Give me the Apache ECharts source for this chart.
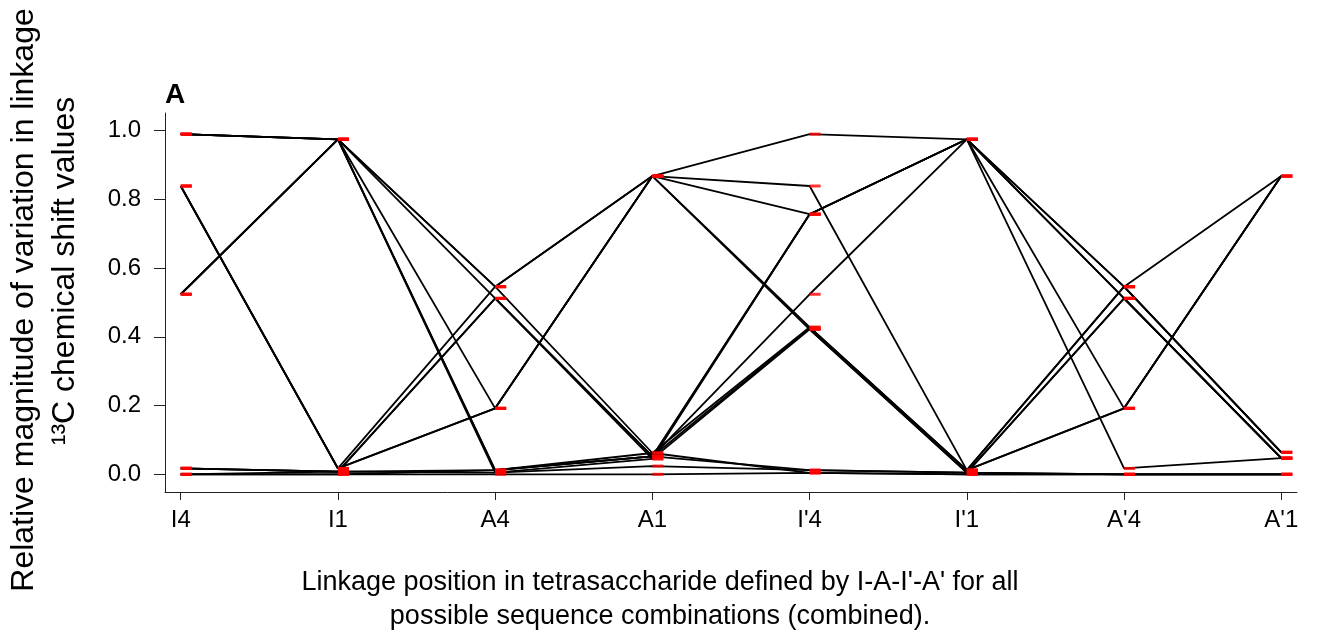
<!DOCTYPE html>
<html>
<head>
<meta charset="utf-8">
<script src="https://cdn.jsdelivr.net/npm/echarts@6/dist/echarts.min.js"></script>
<style>
html,body{margin:0;padding:0;background:#fff;}
#chart{width:1317px;height:641px;}
</style>
</head>
<body>
<div id="chart"></div>
<script>
// Linkage positions (x categories)
const categories = ["I4", "I1", "A4", "A1", "I'4", "I'1", "A'4", "A'1"];
const yTicks = [0, 0.2, 0.4, 0.6, 0.8, 1.0];

// One polyline per sequence combination (values at each linkage position)
const line01 = [0.99, 0.975, 0.546, 0.868, 0.99, 0.975, 0.546, 0.868];
const line02 = [0.524, 0.975, 0.512, 0.052, 0.757, 0.975, 0.512, 0.047];
const line03 = [0.839, 0.017, 0.546, 0.062, 0.428, 0.012, 0.546, 0.064];
const line04 = [0.0175, 0.008, 0.512, 0.045, 0.422, 0.005, 0.512, 0.047];
const line05 = [0, 0, 0, 0, 0.004, 0, 0, 0];
const line06 = [0.99, 0.975, 0.192, 0.868, 0.839, 0.012, 0.192, 0.868];
const line07 = [0.99, 0.975, 0.012, 0.052, 0.524, 0.975, 0.192, 0.868];
const line08 = [0.524, 0.975, 0.005, 0.024, 0.012, 0.005, 0, 0];
const line09 = [0.839, 0.017, 0.192, 0.868, 0.757, 0.975, 0.017, 0.047];
const line10 = [0.0175, 0.008, 0.012, 0.052, 0.757, 0.975, 0.546, 0.064];
const line11 = [0, 0.008, 0.005, 0.045, 0.757, 0.975, 0.512, 0.047];
const line12 = [0.524, 0.975, 0.546, 0.868, 0.428, 0.012, 0.546, 0.064];
const line13 = [0.839, 0.017, 0.192, 0.868, 0.422, 0.005, 0.512, 0.047];
const line14 = [0.0175, 0.008, 0.512, 0.052, 0.012, 0.005, 0, 0];
const line15 = [0, 0, 0.012, 0.062, 0.004, 0, 0, 0];
const line16 = [0.99, 0.975, 0.012, 0.052, 0.425, 0.012, 0.192, 0.868];

const lines = [line01, line02, line03, line04, line05, line06, line07, line08,
               line09, line10, line11, line12, line13, line14, line15, line16];

const lineSeries = lines.map(function (arr) {
  return {
    type: 'line',
    data: arr.map(function (v, i) { return [i + 1, v]; }),
    symbol: 'none',
    silent: true,
    z: 2,
    lineStyle: { color: '#000', width: 1.8 }
  };
});

const markerData = [];
lines.forEach(function (arr) {
  arr.forEach(function (v, i) { markerData.push([i + 1, v]); });
});

const FONT = '"Liberation Sans", Arial, sans-serif';

const chart = echarts.init(document.getElementById('chart'), null, { renderer: 'canvas' });
chart.setOption({
  animation: false,
  backgroundColor: '#fff',
  grid: { left: 165, right: 20, top: 113, bottom: 149, containLabel: false },
  xAxis: {
    type: 'value',
    min: 0.9,
    max: 8.1,
    splitLine: { show: false },
    axisLine: { show: true, onZero: false, lineStyle: { color: '#222', width: 1 } },
    axisTick: { show: true, length: 8, customValues: [1, 2, 3, 4, 5, 6, 7, 8], lineStyle: { color: '#222' } },
    axisLabel: {
      customValues: [1, 2, 3, 4, 5, 6, 7, 8],
      formatter: function (v) { return categories[Math.round(v) - 1]; },
      fontSize: 24, fontFamily: FONT, color: '#000', margin: 16
    }
  },
  yAxis: {
    type: 'value',
    min: -0.0515,
    max: 1.0515,
    splitLine: { show: false },
    axisLine: { show: true, onZero: false, lineStyle: { color: '#222', width: 1 } },
    axisTick: { show: true, length: 11, customValues: yTicks, lineStyle: { color: '#222' } },
    axisLabel: {
      customValues: yTicks,
      formatter: function (v) { return v.toFixed(1); },
      fontSize: 24, fontFamily: FONT, color: '#000', margin: 24
    }
  },
  series: lineSeries.concat([{
    type: 'scatter',
    data: markerData,
    symbol: 'rect',
    symbolSize: [11, 3],
    symbolOffset: [5.5, 0],
    silent: true,
    z: 5,
    itemStyle: { color: '#ff0000' }
  }]),
  graphic: [
    {
      type: 'text', x: 165, y: 95,
      style: { text: 'A', font: 'bold 28px ' + FONT, fill: '#000', textAlign: 'left', textVerticalAlign: 'middle' }
    },
    {
      type: 'text', x: 24, y: 300, rotation: Math.PI / 2,
      style: { text: 'Relative magnitude of variation in linkage', font: '32px ' + FONT, fill: '#000', textAlign: 'center', textVerticalAlign: 'middle' }
    },
    {
      type: 'text', x: 65, y: 271, rotation: Math.PI / 2,
      style: { text: '\u00B9\u00B3C chemical shift values', font: '32px ' + FONT, fill: '#000', textAlign: 'center', textVerticalAlign: 'middle' }
    },
    {
      type: 'text', x: 660, y: 600,
      style: { text: "Linkage position in tetrasaccharide defined by I-A-I'-A' for all\npossible sequence combinations (combined).", font: '27px ' + FONT, lineHeight: 34, fill: '#000', textAlign: 'center', textVerticalAlign: 'middle' }
    }
  ]
});
</script>
</body>
</html>
